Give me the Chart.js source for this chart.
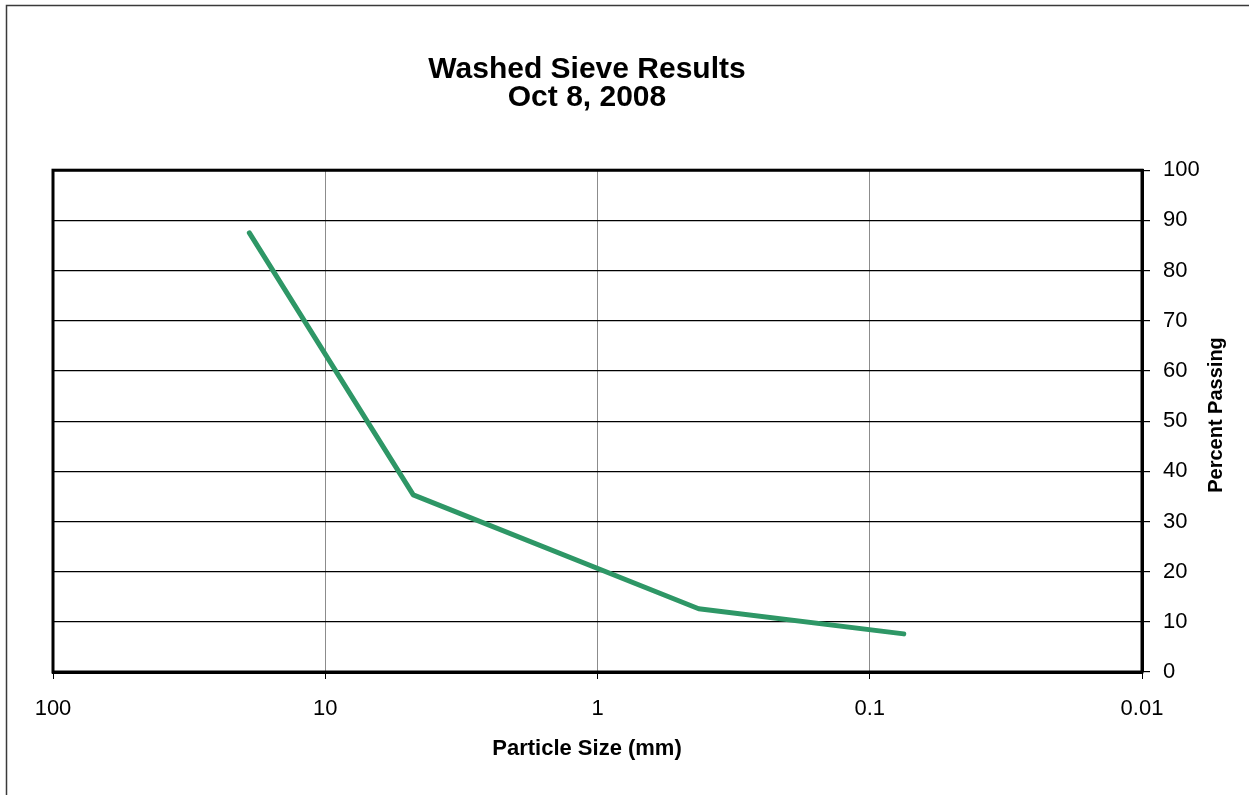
<!DOCTYPE html>
<html>
<head>
<meta charset="utf-8">
<title>Washed Sieve Results</title>
<script src="https://cdn.jsdelivr.net/npm/chart.js@4.4.1/dist/chart.umd.min.js"></script>
<style>
  html, body { margin: 0; padding: 0; background: #fff; }
  #wrap { width: 1249px; height: 795px; }
</style>
</head>
<body>
<div id="wrap"><canvas id="sieve" width="1249" height="795"></canvas></div>
<script>
// Sieve opening sizes (mm) and cumulative percent passing
const sieveSizes = [19, 4.75, 0.425, 0.075];
const percentPassing = [87.5, 35.3, 12.6, 7.6];

// Axis ticks
const sizeTicks = [100, 10, 1, 0.1, 0.01];
const sizeTickLabels = ['100', '10', '1', '0.1', '0.01'];

const FONT = '"Liberation Sans", Arial, Helvetica, sans-serif';
const TEXT_CENTER_X = 587;   // titles are centred on the sheet, not the plot

// Outer sheet border, heavy plot frame and the axis titles
const framePlugin = {
  id: 'frame',
  afterLayout(chart) {
    const tb = chart.titleBlock;
    if (tb) {
      const half = Math.min(TEXT_CENTER_X, chart.width - TEXT_CENTER_X);
      tb.left = TEXT_CENTER_X - half;
      tb.right = TEXT_CENTER_X + half;
      tb.width = tb.right - tb.left;
    }
  },
  beforeDraw(chart) {
    const ctx = chart.ctx;
    ctx.save();
    ctx.fillStyle = '#fff';
    ctx.fillRect(0, 0, chart.width, chart.height);
    ctx.strokeStyle = '#3a3a3a';
    ctx.lineWidth = 1.5;
    ctx.strokeRect(6.5, 5.5, chart.width + 20, chart.height + 20);
    ctx.restore();
  },
  beforeDatasetsDraw(chart) {
    const a = chart.chartArea;
    const ctx = chart.ctx;
    ctx.save();
    ctx.strokeStyle = '#000';
    ctx.lineWidth = 3;
    ctx.strokeRect(a.left, a.top, a.right - a.left, a.bottom - a.top);
    ctx.restore();
  },
  afterDraw(chart) {
    const ctx = chart.ctx;
    ctx.save();
    ctx.fillStyle = '#000';
    ctx.textAlign = 'center';
    ctx.textBaseline = 'middle';
    // bottom axis title
    ctx.font = 'bold 22px ' + FONT;
    ctx.fillText('Particle Size (mm)', TEXT_CENTER_X, 749);
    // right-hand axis title, reading bottom to top
    ctx.translate(1216, 415);
    ctx.rotate(-Math.PI / 2);
    ctx.font = 'bold 20px ' + FONT;
    ctx.fillText('Percent Passing', 0, 0);
    ctx.restore();
  }
};

new Chart(document.getElementById('sieve'), {
  type: 'line',
  data: {
    datasets: [{
      label: 'Percent Passing',
      data: sieveSizes.map((s, i) => ({ x: s, y: percentPassing[i] })),
      borderColor: '#2e9766',
      borderWidth: 5,
      borderCapStyle: 'round',
      borderJoinStyle: 'round',
      tension: 0,
      pointRadius: 0,
      fill: false
    }]
  },
  options: {
    responsive: false,
    animation: false,
    layout: { padding: { left: 53, right: 0, top: 10, bottom: 0 } },
    plugins: {
      legend: { display: false },
      tooltip: { enabled: false },
      title: {
        display: true,
        text: ['Washed Sieve Results', 'Oct 8, 2008'],
        color: '#000',
        font: { family: FONT, size: 30, weight: 'bold', lineHeight: 0.92 },
        padding: { top: 46, bottom: 59 }
      }
    },
    scales: {
      x: {
        type: 'logarithmic',
        min: 0.01,
        max: 100,
        reverse: true,
        afterBuildTicks(scale) {
          scale.ticks = sizeTicks.map(v => ({ value: v }));
        },
        afterFit(scale) { scale.height = 123; },
        ticks: {
          autoSkip: false,
          maxRotation: 0,
          color: '#000',
          padding: 17,
          font: { family: FONT, size: 22 },
          callback(value) {
            const i = sizeTicks.indexOf(value);
            return i >= 0 ? sizeTickLabels[i] : '';
          }
        },
        grid: {
          color: '#8c8c8c',
          lineWidth: 1,
          tickLength: 7,
          tickColor: '#000'
        },
        border: { display: true, color: '#000', width: 3 },
        title: { display: false }
      },
      y: {
        type: 'linear',
        position: 'right',
        min: 0,
        max: 100,
        afterFit(scale) { scale.width = 107; },
        ticks: {
          stepSize: 10,
          color: '#000',
          padding: 13,
          font: { family: FONT, size: 22 }
        },
        grid: {
          color: '#000',
          lineWidth: 1.2,
          tickLength: 8,
          tickColor: '#000'
        },
        border: { display: true, color: '#000', width: 3 },
        title: { display: false }
      }
    }
  },
  plugins: [framePlugin]
});
</script>
</body>
</html>
